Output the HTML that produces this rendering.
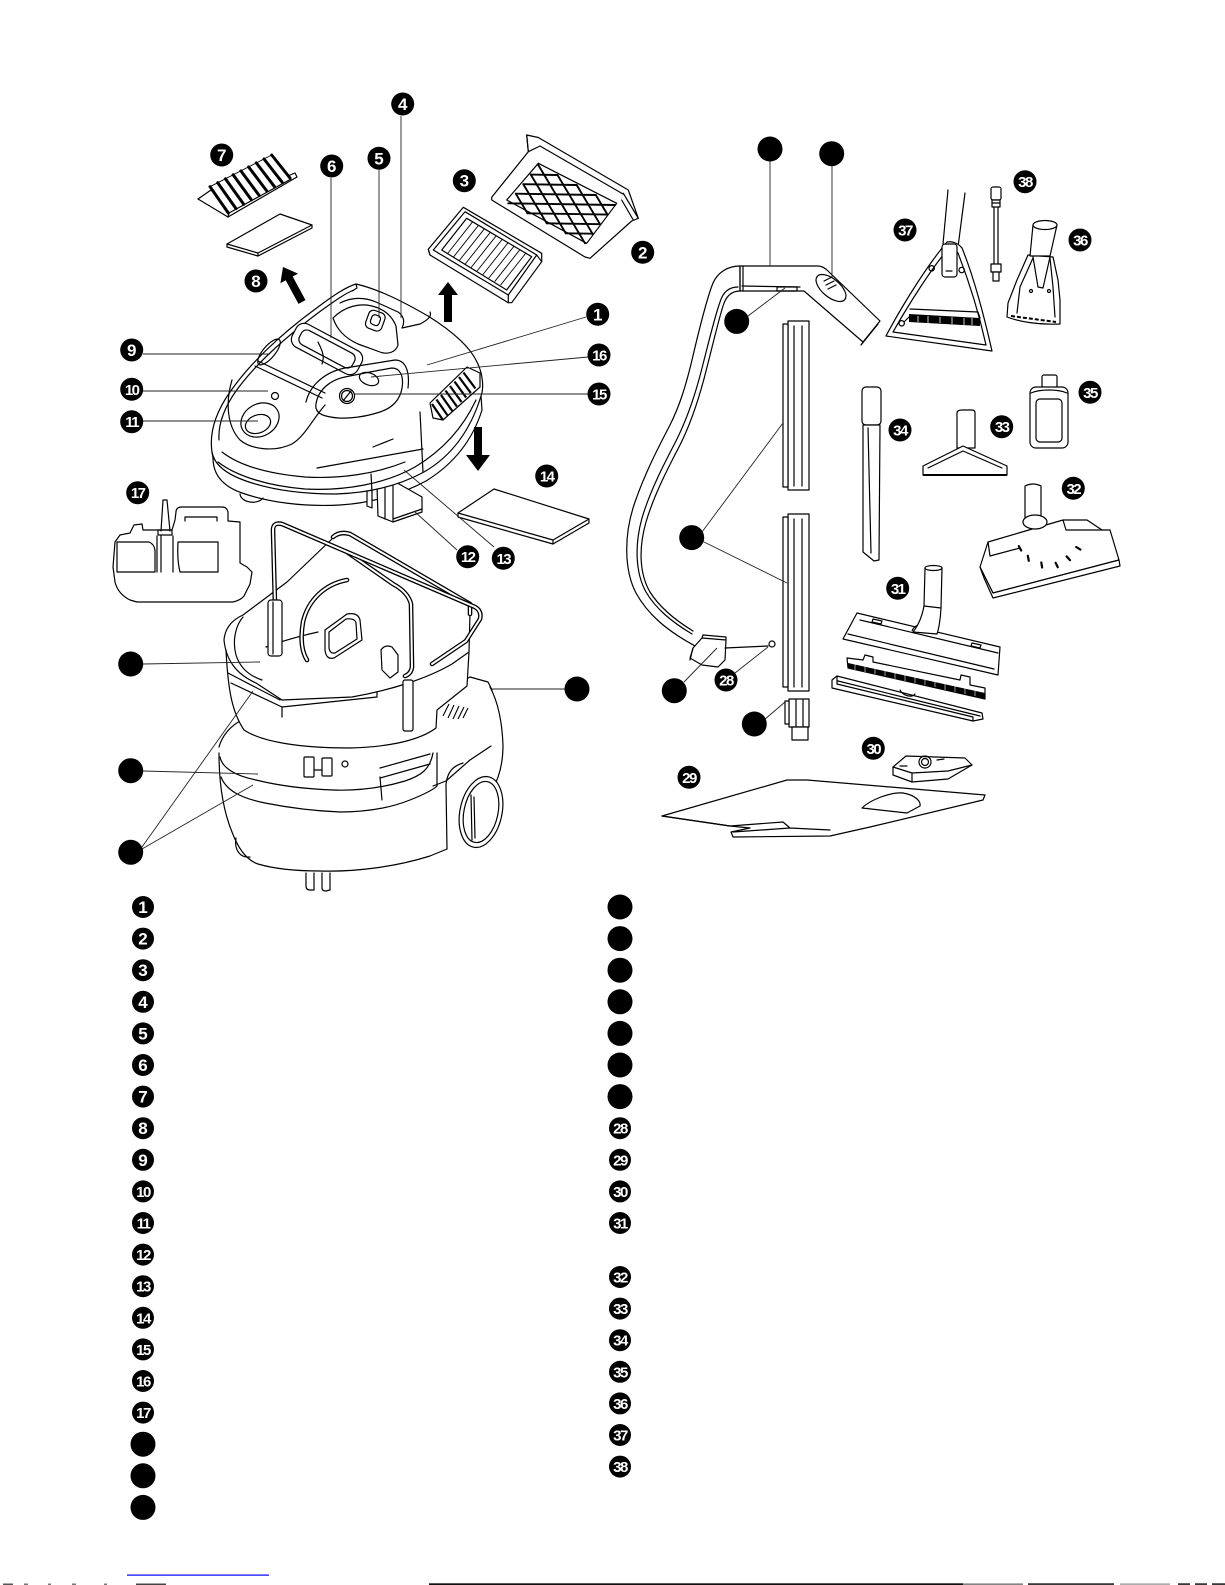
<!DOCTYPE html>
<html><head><meta charset="utf-8"><style>
html,body{margin:0;padding:0;background:#fff;}
svg{display:block;}
.l{fill:none;stroke:#000;stroke-width:1.2;stroke-linejoin:round;stroke-linecap:round}
.t{fill:none;stroke:#000;stroke-width:0.9;stroke-linejoin:round;stroke-linecap:round}
.w{fill:#fff;stroke:#000;stroke-width:1.2;stroke-linejoin:round}
.k{fill:#000;stroke:none}
.ld{fill:none;stroke:#222;stroke-width:0.9}
.d1{fill:none;stroke:#000;stroke-width:4.6;stroke-linejoin:round;stroke-linecap:round}
.d2{fill:none;stroke:#fff;stroke-width:2;stroke-linejoin:round;stroke-linecap:round}
.bt{fill:#fff;font-family:"Liberation Sans",sans-serif;font-weight:bold;font-size:17px;text-anchor:middle}
.bt2{fill:#fff;font-family:"Liberation Sans",sans-serif;font-weight:bold;font-size:15px;text-anchor:middle;letter-spacing:-1.5px}
</style></head><body>
<svg width="1225" height="1585" viewBox="0 0 1225 1585" xmlns="http://www.w3.org/2000/svg">

<!-- ========== FILTER 7 (pleated) ========== -->
<path class="l" d="M198,199 L228,217 L297,177 L295,173 L290,175"/>
<path class="l" d="M198,199 L211,190 L214,193"/>
<path class="l" d="M228,217 L229,213 L291,179"/>
<g stroke="#000" stroke-width="3" stroke-linecap="round">
<line x1="210" y1="186.7" x2="228.3" y2="213"/>
<line x1="217.7" y1="182.7" x2="236" y2="208.6"/>
<line x1="225.4" y1="178.8" x2="243.7" y2="204.3"/>
<line x1="233.1" y1="174.8" x2="251.4" y2="199.9"/>
<line x1="240.9" y1="170.9" x2="259.2" y2="195.5"/>
<line x1="248.6" y1="166.9" x2="266.9" y2="191.1"/>
<line x1="256.3" y1="162.9" x2="274.6" y2="186.8"/>
<line x1="264" y1="159" x2="282.3" y2="182.4"/>
<line x1="271.7" y1="155" x2="290" y2="178"/>
</g>
<path class="t" d="M210,186.7 L271.7,155"/>

<!-- ========== PAD 8 ========== -->
<path class="w" d="M227,244 L280,214 L312,225 L312,228 L258,256 L227,247 Z"/>
<path class="l" d="M227,244 L258,253 L312,225 M258,253 L258,256"/>

<!-- Arrow near 8 -->
<polygon class="k" points="305.5,300.1 292.7,276.5 298,273.6 283,267 280.4,283.2 285.7,280.3 298.5,303.9"/>

<!-- ========== FILTER 3 ========== -->
<path class="w" d="M428.3,249.3 L463.3,207.3 L541.7,253.3 L541.7,261.7 L511.7,302.7 L508.3,302.7 L430,255 Z"/>
<path class="l" d="M433.3,250 L465,211.7 L536.7,255 L508.3,295 Z"/>
<path class="l" d="M441.7,250 L466.7,218.3 L531.7,256.7 L506.7,290 Z"/>
<path class="l" d="M428.3,249.3 L430,255 M508.3,295 L508.3,302.7 M536.7,255 L541.7,261.7"/>
<g class="t">
<line x1="472.6" y1="221.8" x2="447.6" y2="253.5"/>
<line x1="478.5" y1="225.3" x2="453.5" y2="257"/>
<line x1="484.4" y1="228.8" x2="459.4" y2="260.4"/>
<line x1="490.3" y1="232.3" x2="465.3" y2="263.9"/>
<line x1="496.2" y1="235.8" x2="471.2" y2="267.4"/>
<line x1="502.2" y1="239.3" x2="477.2" y2="270.9"/>
<line x1="508.1" y1="242.7" x2="483.1" y2="274.4"/>
<line x1="514" y1="246.2" x2="489" y2="277.9"/>
<line x1="519.9" y1="249.7" x2="494.9" y2="281.3"/>
<line x1="525.8" y1="253.2" x2="500.8" y2="284.8"/>
</g>
<!-- up arrow -->
<polygon class="k" points="444,322 452,322 452,295 458,295 448,282 438,295 444,295"/>

<!-- ========== FILTER 2 (tray with lattice) ========== -->
<path class="w" d="M491.7,197.3 L528.3,151.7 L526.7,135 L538.3,137.5 L628.3,190 L638.3,218.3 L631.7,221 L590,258.3 L585,257 L491.7,200 Z"/>
<path class="l" d="M528.3,151.7 L540,146 L623,194 M526.7,135 L528.3,151.7 M623.3,193.3 L638.3,218.3 M621.7,200 L633.3,220"/>
<path class="l" d="M506.7,200 L538.3,163.3 L616.7,203.3 L586.7,243.3 Z"/>
<g stroke="#000" stroke-width="1.9" stroke-linecap="round">
<line x1="508.3" y1="203.3" x2="615" y2="205"/>
<line x1="515.8" y1="193.7" x2="595.8" y2="195"/>
<line x1="523.3" y1="184.2" x2="576.7" y2="185"/>
<line x1="530.8" y1="174.6" x2="557.5" y2="175"/>
<line x1="527.5" y1="213.3" x2="607.5" y2="214.6"/>
<line x1="546.7" y1="223.3" x2="600" y2="224.2"/>
<line x1="565.8" y1="233.3" x2="592.5" y2="233.7"/>
<line x1="515.8" y1="193.7" x2="527.5" y2="213.3"/>
<line x1="523.3" y1="184.2" x2="546.7" y2="223.3"/>
<line x1="530.8" y1="174.6" x2="565.8" y2="233.3"/>
<line x1="538.3" y1="165" x2="585" y2="243.3"/>
<line x1="557.5" y1="175" x2="592.5" y2="233.7"/>
<line x1="576.7" y1="185" x2="600" y2="224.2"/>
<line x1="595.8" y1="195" x2="607.5" y2="214.6"/>
</g>

<!-- ========== VACUUM HEAD ========== -->
<path class="w" d="M213,458 C213,474 222,486 242,493 C268,502 302,507 340,505 C372,503 402,494 426,481 C452,465 472,442 482,410 L481,396 L212,452 Z"/>
<path class="l" d="M240,494 C241,503 258,505 263,498"/>
<path class="w" d="M367,475 L367,506 L372,508 L372,478 Z"/>
<path class="w" d="M377,486 L392,480 L422,497 L422,512 L393,522 L378,516 Z"/>
<path class="l" d="M393,480 L393,522 M385,483 L385,519 M393,519 L422,509"/>
<path class="w" d="M212,452 C209,432 216,412 230,392 C248,366 278,336 318,307 C334,295 346,287 356,284 C378,289 402,301 428,316 C452,331 470,347 477,362 C483,374 484,388 481,396 C470,432 450,457 424,472 C400,485 370,493 336,494 C302,494 272,490 246,481 C226,474 214,464 212,452 Z"/>
<path class="l" d="M219,440 C218,424 224,408 236,391 C254,366 284,338 322,310 C336,300 346,293 354,290"/>
<path class="l" d="M356,284 L357,288 L352,291"/>
<path class="l" d="M218,462 C236,476 268,486 305,489 C345,491 385,484 415,467 C440,452 462,430 476,400"/>
<path class="l" d="M222,452 C240,466 270,474 305,477 C340,479 375,474 405,462"/>
<path class="l" d="M420,412 L423,472 M371,474 L372,492"/>
<path class="l" d="M317,468 L423,449 M373,447 L393,439"/>
<path class="l" d="M340,303 C352,297 364,297 376,302 L398,312 C404,316 405,322 402,328 L420,324 C428,320 432,316 430,312"/>
<path class="l" d="M333,318 C345,306 360,303 372,306 C384,309 392,316 396,326 L398,345 C396,352 388,355 380,352 L358,344 C345,338 337,330 333,318 Z"/>
<rect class="w" x="367" y="311" width="17" height="19" rx="5" transform="rotate(20 375 320)"/>
<rect class="l" x="371" y="315" width="9" height="10" rx="3" transform="rotate(20 375 320)"/>
<rect class="w" x="290" y="336" width="74" height="26" rx="9" transform="rotate(28 327 349)"/>
<rect class="l" x="297" y="341" width="60" height="16" rx="6" transform="rotate(28 327 349)"/>
<path class="l" d="M318,342 C322,350 325,356 322,364"/>
<ellipse class="l" cx="269" cy="352" rx="16" ry="6" transform="rotate(-50 269 352)"/>
<path class="l" d="M255,366 L322,398 M258,361 L325,393"/>
<circle class="l" cx="275" cy="396" r="3.5"/>
<ellipse class="l" cx="260" cy="420" rx="20" ry="16" transform="rotate(-30 260 420)"/>
<ellipse class="l" cx="258" cy="424" rx="13" ry="9" transform="rotate(-20 258 424)"/>
<path class="l" d="M232,380 C226,400 226,425 240,440 C252,450 275,452 292,444 C305,436 312,420 325,405"/>
<path class="l" d="M316,404 C318,390 330,380 345,377 C360,374 380,370 392,368 C400,368 404,376 402,388 C400,400 392,408 380,412 C362,418 340,420 326,416 C318,414 315,410 316,404 Z"/>
<path class="l" d="M306,402 C310,385 325,372 345,368 L395,360 C405,360 410,370 408,388"/>
<ellipse class="l" cx="369" cy="379" rx="10" ry="6" transform="rotate(20 369 379)"/>
<circle class="w" cx="347" cy="396" r="7.5"/>
<circle class="l" cx="347" cy="396" r="5.5"/>
<path class="l" d="M343,401 L351,391"/>
<path class="l" d="M430,403 L467,367 L480,373 L480,387 L443,420 L433,418 Z"/>
<g stroke="#000" stroke-width="2.2">
<line x1="432" y1="404" x2="443" y2="420"/>
<line x1="436.5" y1="399.5" x2="447.6" y2="415.5"/>
<line x1="441" y1="395" x2="452.3" y2="411"/>
<line x1="445.5" y1="390.5" x2="456.9" y2="406.5"/>
<line x1="450" y1="386" x2="461.5" y2="402"/>
<line x1="454.5" y1="381.5" x2="466.1" y2="397.5"/>
<line x1="459" y1="377" x2="470.8" y2="393"/>
<line x1="463.5" y1="372.5" x2="475.4" y2="388.5"/>
</g>
<polygon class="k" points="474,427 482,427 482,455 490,455 478,471 466,455 474,455"/>

<!-- PAD 14 -->
<path class="w" d="M458,513 L494,489 L589,519 L589,523 L553,544 L458,517 Z"/>
<path class="l" d="M458,513 L553,540 L589,519 M553,540 L553,544"/>

<!-- ========== ACCESSORY HOLDER 17 ========== -->
<path class="w" d="M115,542 L113,567 L115,582 Q118,594 130,600 L137,602 L233,602 Q241,600 244,596 L250,584 L252,572 L247,567 L240,563 L240,522 L228,521 L228,512 Q227,507 222,507 L182,507 Q176,507 176,512 L175,520 L172,530 L160,530 L143,530 L142,524 L134,525 L130,533 L120,535 Z"/>
<path class="l" d="M185,521 L185,517 L217,517 L217,521"/>
<path class="l" d="M163,500 L161,531 M167,500 L170,531 M163,500 L167,500 M158,530 L172,530 L172,535 L158,535 Z"/>
<path class="l" d="M117,542 L149,542 Q154,544 155,550 L155,572 L117,572 Z"/>
<path class="l" d="M178,542 L218,542 L218,572 L180,572 Q177,560 178,542 Z"/>
<path class="l" d="M157,536 L157,572 M161,536 L161,572 M173,536 L173,572"/>

<!-- ========== LOWER TANK ========== -->
<path class="l" d="M219,747 C222,736 230,726 242,720"/>
<path class="l" d="M433,697 L470,677 L488,682 L492,690"/>
<path class="l" d="M220,757 C222,768 236,776 256,780 C280,786 305,789 333,790 C360,791 385,787 405,781 C420,776 430,770 433,753"/>
<path class="l" d="M221,777 C226,790 240,798 265,803 C290,808 315,811 340,812 C365,812 390,808 410,800 C425,794 434,789 437,786"/>
<path class="l" d="M219,753 C219,785 223,810 232,832 C238,848 246,860 258,864 C275,869 295,871 320,871 C355,872 395,867 430,856 L447,849"/>
<path class="l" d="M447,849 L446,785 C447,772 453,766 463,763"/>
<path class="l" d="M490,687 C497,700 502,720 503,745 C503,765 498,780 492,790"/>
<path class="l" d="M433,786 L446,781 L470,760 L491,746 M437,786 L437,753"/>
<rect class="w" x="304" y="757" width="10" height="20" rx="1"/>
<rect class="w" x="322" y="758" width="10" height="18" rx="1"/>
<path class="l" d="M314,770 L322,770"/>
<circle class="l" cx="345" cy="764" r="3"/>
<path class="l" d="M380,768 L430,754 M380,778 L430,764 M380,777 L382,800"/>
<path class="l" d="M236,838 C234,850 240,858 250,857"/>
<path class="l" d="M306,873 L306,886 Q306,890 310,890 L314,890 L314,873 M322,873 L322,888 Q322,891 326,891 L330,890 L330,873"/>
<ellipse class="w" cx="481" cy="812" rx="21" ry="36" transform="rotate(12 481 812)"/>
<ellipse class="l" cx="481" cy="812" rx="17" ry="31" transform="rotate(12 481 812)"/>
<path class="l" d="M471,795 L472,840 M474,797 L475,838"/>
<g stroke="#000" stroke-width="1.1">
<line x1="443" y1="716" x2="449" y2="704"/><line x1="448" y1="718" x2="454" y2="705"/>
<line x1="453" y1="719" x2="459" y2="706"/><line x1="458" y1="719" x2="464" y2="707"/>
<line x1="463" y1="718" x2="468" y2="708"/>
</g>

<!-- ========== BASKET ========== -->
<path fill="#fff" stroke="none" d="M224,640 C225,628 232,620 243,615 L333,538 L350,533 L470,604 L470,652 L467,686 L437,710 L436,728 C420,740 390,747 350,748 C300,748 262,742 244,730 C232,712 228,690 226,650 Z"/>
<path class="l" d="M224,640 C226,660 236,674 256,683 L282,700 L352,697 C392,690 428,678 452,664 L469,652 L470,612"/>
<path class="l" d="M226,650 C228,690 232,712 244,730 C262,742 300,748 350,748 C390,747 420,740 436,728 L437,710 L467,686 L469,652"/>
<path class="l" d="M228,673 L280,700 M231,683 L282,707 L282,717 M282,707 L377,697 L377,692"/>
<path class="l" d="M224,640 C225,628 232,620 243,615 L287,582 L333,538"/>
<path class="l" d="M243,617 C236,625 232,640 236,655 C240,668 250,676 262,680"/>
<path class="l" d="M266,647 C285,640 300,636 318,632"/>
<path class="d1" d="M333,537 Q340,531 350,534 L470,604 L470,614"/>
<path class="d2" d="M333,537 Q340,531 350,534 L470,604 L470,614"/>
<path class="d1" d="M347,552 L393,584 Q408,592 411,604 L412,667 Q411,674 405,676"/>
<path class="d2" d="M347,552 L393,584 Q408,592 411,604 L412,667 Q411,674 405,676"/>
<path class="d1" d="M347,580 C325,584 308,600 303,622 C300,640 302,652 307,660"/>
<path class="d2" d="M347,580 C325,584 308,600 303,622 C300,640 302,652 307,660"/>
<path class="l" d="M325,630 L347,614 Q358,612 360,620 L362,640 L334,658 Q326,660 325,650 Z"/>
<path class="l" d="M329,632 L346,619 Q355,618 356,623 L357,639 L335,653 Q330,654 329,648 Z"/>
<path class="w" d="M381,650 Q385,644 392,647 L398,655 L398,672 L390,678 L382,670 Z"/>
<rect class="w" x="403" y="680" width="10" height="51" rx="2"/>
<path class="d1" d="M275,605 L273,530 Q273,522 282,524 L475,607 Q482,611 480,619 L466,641 L432,664"/>
<path class="d2" d="M275,605 L273,530 Q273,522 282,524 L475,607 Q482,611 480,619 L466,641 L432,664"/>
<rect class="w" x="268" y="600" width="14" height="56" rx="3"/>
<path class="l" d="M273,602 L273,654"/>

<!-- ========== HOSE ========== -->
<path class="l" d="M740,266 C728,266 718,272 713,283 C707,298 699,330 692,360 C686,385 680,405 670,425 C658,448 644,475 634,505 C624,535 624,570 636,593 C647,613 665,630 697,647"/>
<path class="l" d="M738,287 C729,287 723,292 720,302 C714,319 708,345 701,372 C694,399 686,421 676,441 C664,464 650,491 642,518 C634,547 636,574 646,592 C656,609 672,622 692,634"/>
<path class="l" d="M740,291 C732,291 726,296 723,306 C718,322 712,348 705,375 C698,402 690,425 680,445 C668,468 654,495 646,522 C638,550 640,575 650,592 C660,608 675,620 693,631"/>
<path class="w" d="M690,658 L693,648 L702,638 L726,640 L725,660 L718,667 L702,665 Z"/>
<path class="l" d="M702,638 L703,635 L726,637 L726,640 M693,648 L690,660"/>
<path class="l" d="M725,648 L768,646"/>
<circle class="w" cx="772" cy="644" r="3"/>
<path class="w" d="M740,266 L818,266 Q823,266 828,271 L880,321 L863,342 L804,291 L740,291 Z"/>
<path class="l" d="M740,266 L740,291 M743,266 L743,291 M878,324 L861,345 L863,342 M742,286 L800,287"/>
<rect class="l" x="777" y="287" width="20" height="4"/>
<ellipse class="l" cx="831" cy="288" rx="18" ry="9" transform="rotate(40 831 288)"/>
<path class="l" d="M824,281 L832,277 M826,285 L834,281 M828,289 L836,285"/>
<rect class="w" x="788" y="321" width="21" height="169"/>
<rect class="w" x="783" y="324" width="5" height="163"/>
<path class="l" d="M794,326 L794,486 M802,326 L802,486"/>
<rect class="w" x="788" y="514" width="21" height="177"/>
<rect class="w" x="783" y="517" width="5" height="170"/>
<path class="l" d="M794,519 L794,687 M802,519 L802,687"/>
<rect class="w" x="789" y="699" width="20" height="28"/>
<rect class="w" x="785" y="701" width="4" height="23"/>
<path class="l" d="M796,700 L796,726 M803,700 L803,726"/>
<rect class="w" x="792" y="727" width="16" height="13"/>

<!-- ========== TOOL 37 ========== -->
<path class="l" d="M948,190 L943,244 M965,193 L958,247"/>
<path class="w" d="M947,242 C930,262 905,300 886,336 L992,351 C985,320 975,280 962,248 C958,243 952,241 947,242 Z"/>
<path class="l" d="M948,249 C932,268 910,302 893,332 L986,345 C980,318 970,284 958,253 C955,249 951,247 948,249 Z"/>
<rect class="w" x="942" y="244" width="15" height="33" rx="3"/>
<path class="l" d="M946,271 L952,271"/>
<circle class="l" cx="931.7" cy="268.3" r="2.7"/>
<circle class="l" cx="961.7" cy="270" r="2.7"/>
<circle class="l" cx="901.7" cy="323.3" r="2.7"/>
<path class="l" d="M910,309 L978,312 L980,318 M904,322 L910,316"/>
<polygon class="k" points="909,314 980,318 980,326 909,322"/>
<g stroke="#fff" stroke-width="0.8"><line x1="918" y1="316" x2="918" y2="322"/><line x1="928" y1="316" x2="928" y2="323"/><line x1="940" y1="317" x2="940" y2="323"/><line x1="952" y1="317" x2="952" y2="324"/><line x1="964" y1="318" x2="964" y2="325"/><line x1="972" y1="318" x2="972" y2="325"/></g>

<!-- ========== TOOL 38 ========== -->
<rect class="w" x="991" y="187" width="10" height="13" rx="2"/>
<rect class="w" x="992" y="200" width="8" height="7"/>
<path class="l" d="M992,203 L1000,203"/>
<path class="l" d="M994,207 L994,264 M998,207 L998,264"/>
<rect class="w" x="991" y="264" width="10" height="8"/>
<rect class="w" x="993" y="272" width="6" height="9"/>

<!-- ========== TOOL 36 ========== -->
<path class="w" d="M1028,255 L1017,280 L1008,303 L1007,317 C1020,322 1040,325 1060,324 L1060,300 L1058,280 L1053,257 Z"/>
<path class="w" d="M1033,225 L1030,256 L1050,256 L1057,225 Z"/>
<ellipse class="w" cx="1045" cy="225" rx="12" ry="4.5"/>
<path class="l" d="M1033,258 L1020,287 L1017,313 M1050,258 L1053,287 L1055,317"/>
<path class="l" d="M1033,257 L1038,287 L1043,288 L1050,257"/>
<circle class="l" cx="1031" cy="291" r="1.5"/><circle class="l" cx="1049" cy="291" r="1.5"/>
<path d="M1011,316 L1056,322" stroke="#000" stroke-width="2" stroke-dasharray="4 2"/>

<!-- ========== TOOL 35 ========== -->
<rect class="w" x="1042" y="375" width="15" height="15" rx="2"/>
<rect class="w" x="1030" y="387" width="38" height="61" rx="6"/>
<path class="l" d="M1031,393 C1040,389 1058,389 1067,393"/>
<rect class="l" x="1036" y="399" width="26" height="43" rx="4"/>

<!-- ========== TOOL 34 ========== -->
<rect class="w" x="862" y="387" width="19" height="38" rx="4"/>
<path class="w" d="M863,425 L863,552 L874,561 L879,560 L880,425 Z"/>
<path class="l" d="M868,428 L871,553"/>

<!-- ========== TOOL 33 ========== -->
<path class="w" d="M957,448 L957,413 Q957,410 962,410 L972,410 Q975,410 975,413 L975,448 Z"/>
<path class="w" d="M923,466 L963,446 L1007,466 L1007,475 L923,475 Z"/>
<path class="l" d="M928,468 L963,451 L1002,468"/>
<path d="M923,475 L1007,475" stroke="#000" stroke-width="2"/>

<!-- ========== TOOL 32 ========== -->
<path class="w" d="M980,567 L988,542 L1022,532 L1063,520 L1087,520 L1102,530 L1110,530 L1119,560 L993,593 Z"/>
<path class="w" d="M980,567 L984,578 L993,598 L1120,566 L1119,560 L993,593 Z"/>
<path class="l" d="M988,542 L990,556 L1020,548 M1063,520 L1066,530 L1102,530"/>
<path class="w" d="M1025,522 L1025,486 Q1033,482 1041,486 L1041,520 Z"/>
<ellipse class="w" cx="1035" cy="522" rx="12" ry="7"/>
<g stroke="#000" stroke-width="2.2" stroke-linecap="round">
<line x1="1018.8" y1="546.1" x2="1021.2" y2="550.5"/>
<line x1="1027.8" y1="555.8" x2="1028.8" y2="560.8"/>
<line x1="1041.3" y1="562.5" x2="1042.1" y2="567.5"/>
<line x1="1055.6" y1="562.8" x2="1057.8" y2="567.2"/>
<line x1="1066.6" y1="556.4" x2="1070" y2="560.2"/>
<line x1="1076.2" y1="547" x2="1080.4" y2="549.6"/>
</g>

<!-- ========== NOZZLE 31 ========== -->
<path class="w" d="M857,613 L1000,647 L998,675 L843,639 Z"/>
<path class="l" d="M860,620 L998,653 M848,634 L994,669"/>
<path class="l" d="M873,619 L882,621 L881,624 L872,622 Z M972,643 L981,645 L980,648 L971,646 Z"/>
<path class="w" d="M912,631 C915,622 930,622 935,634"/>
<path class="w" d="M925,568 L924,606 Q921,622 913,632 L937,634 Q940,625 941,608 L942,568 Z"/>
<path class="l" d="M924,606 L941,608"/>
<ellipse class="w" cx="933.5" cy="568" rx="8.5" ry="2.5"/>
<path class="w" d="M847,658 L863,660 L865,655 L873,657 L873,662 L960,680 L961,675 L970,677 L970,685 L985,688 L985,699 L848,668 Z"/>
<polygon class="k" points="848,663 985,693 985,699 848,668"/>
<g stroke="#fff" stroke-width="0.6"><line x1="855" y1="664" x2="855" y2="670"/><line x1="865" y1="666" x2="865" y2="672"/><line x1="875" y1="668" x2="875" y2="674"/><line x1="885" y1="670" x2="885" y2="676"/><line x1="895" y1="673" x2="895" y2="679"/><line x1="905" y1="675" x2="905" y2="681"/><line x1="915" y1="677" x2="915" y2="683"/><line x1="925" y1="679" x2="925" y2="685"/><line x1="935" y1="681" x2="935" y2="687"/><line x1="945" y1="684" x2="945" y2="690"/><line x1="955" y1="686" x2="955" y2="692"/><line x1="965" y1="688" x2="965" y2="694"/><line x1="975" y1="690" x2="975" y2="696"/></g>
<path class="w" d="M832,680 L837,676 L982,713 L983,719 L973,721 L832,688 Z"/>
<path class="l" d="M837,676 L837,684 L973,717 L973,721 M838,681 L980,716"/>
<path class="l" d="M900,690 C903,696 912,698 915,694"/>

<!-- ========== NOZZLE 30 ========== -->
<path class="w" d="M893,767 L906,756 L965,758 L972,765 L960,772 L948,779 L912,782 L893,775 Z"/>
<path class="l" d="M893,767 L912,773 L948,771 L972,765 M912,773 L912,782"/>
<circle class="l" cx="925" cy="762" r="6"/><circle class="l" cx="925" cy="762" r="3.5"/>
<path class="l" d="M900,766 L907,766 M937,760 L944,759"/>

<!-- ========== BAG 29 ========== -->
<path class="w" d="M662,816 L787,780 L807,780 L985,795 L983,800 L870,827 L830,836 L733,837 L731,832 L750,828 L730,826 Z"/>
<path class="l" d="M662,816 L730,826 L783,822 L790,828 M733,832 L790,828 L830,830"/>
<path class="l" d="M862,808 C870,800 890,792 903,793 C915,795 921,801 920,806 L907,813 Z"/>

<!-- ========== LEADER LINES ========== -->
<g class="ld">
<path d="M401,116 L401,318"/>
<path d="M331,178 L331,338"/>
<path d="M379,170 L379,318"/>
<path d="M143,354 L270,354"/>
<path d="M143,391 L268,391"/>
<path d="M143,421 L258,421"/>
<path d="M586,317 L427,365"/>
<path d="M588,357 L371,377"/>
<path d="M588,394 L354,394"/>
<path d="M457,550 L414,511"/>
<path d="M494,547 L404,470"/>
<path d="M143,664 L260,662"/>
<path d="M143,771 L258,774"/>
<path d="M142,847 L253,691"/>
<path d="M142,849 L253,785"/>
<path d="M491,689 L565,689"/>
<path d="M770,160 L770,266"/>
<path d="M832,165 L832,277"/>
<path d="M748,316 L785,288"/>
<path d="M702,532 L783,423"/>
<path d="M702,541 L787,583"/>
<path d="M684,682 L717,648"/>
<path d="M735,673 L768,647"/>
<path d="M764,720 L785,702"/>
</g>

<!-- ========== BADGES (diagram) ========== -->
<g>
<circle cx="402.7" cy="104" r="11.5"/><text class="bt" x="402.7" y="110">4</text>
<circle cx="221.7" cy="155" r="11.5"/><text class="bt" x="221.7" y="161">7</text>
<circle cx="331.7" cy="166" r="11.5"/><text class="bt" x="331.7" y="172">6</text>
<circle cx="379" cy="158.3" r="11.5"/><text class="bt" x="379" y="164.3">5</text>
<circle cx="464.3" cy="180.7" r="11.5"/><text class="bt" x="464.3" y="186.7">3</text>
<circle cx="642.7" cy="252.3" r="11.5"/><text class="bt" x="642.7" y="258.3">2</text>
<circle cx="256" cy="281" r="11.5"/><text class="bt" x="256" y="287">8</text>
<circle cx="597.7" cy="314.3" r="11.5"/><text class="bt" x="597.7" y="320.3">1</text>
<circle cx="599" cy="355" r="11.5"/><text class="bt2" x="599" y="360.5">16</text>
<circle cx="599" cy="394" r="11.5"/><text class="bt2" x="599" y="399.5">15</text>
<circle cx="131.7" cy="350" r="11.5"/><text class="bt" x="131.7" y="356">9</text>
<circle cx="131.7" cy="389.3" r="11.5"/><text class="bt2" x="131.7" y="394.8">10</text>
<circle cx="131.7" cy="421.7" r="11.5"/><text class="bt2" x="131.7" y="427.2">11</text>
<circle cx="546.7" cy="476" r="11.5"/><text class="bt2" x="546.7" y="481.5">14</text>
<circle cx="137.7" cy="492.7" r="11.5"/><text class="bt2" x="137.7" y="498.2">17</text>
<circle cx="467.7" cy="556.7" r="11.5"/><text class="bt2" x="467.7" y="562.2">12</text>
<circle cx="503.3" cy="558.3" r="11.5"/><text class="bt2" x="503.3" y="563.8">13</text>
<circle cx="130.7" cy="664" r="12.5"/>
<circle cx="130.7" cy="770.7" r="12.5"/>
<circle cx="130.7" cy="852.3" r="12.5"/>
<circle cx="577" cy="689" r="12.5"/>
<circle cx="770" cy="149" r="12.5"/>
<circle cx="831.7" cy="153.7" r="12.5"/>
<circle cx="736.7" cy="321.4" r="12.5"/>
<circle cx="691.7" cy="537.6" r="12.5"/>
<circle cx="674.3" cy="690.7" r="12.5"/>
<circle cx="754.3" cy="724" r="12.5"/>
<circle cx="726" cy="680" r="11.5"/><text class="bt2" x="726" y="685.5">28</text>
<circle cx="689" cy="777.3" r="11.5"/><text class="bt2" x="689" y="782.8">29</text>
<circle cx="873.3" cy="748.3" r="11.5"/><text class="bt2" x="873.3" y="753.8">30</text>
<circle cx="897.7" cy="588.3" r="11.5"/><text class="bt2" x="897.7" y="593.8">31</text>
<circle cx="1073.3" cy="488.3" r="11.5"/><text class="bt2" x="1073.3" y="493.8">32</text>
<circle cx="1001.7" cy="426.7" r="11.5"/><text class="bt2" x="1001.7" y="432.2">33</text>
<circle cx="900" cy="430" r="11.5"/><text class="bt2" x="900" y="435.5">34</text>
<circle cx="1090" cy="392.3" r="11.5"/><text class="bt2" x="1090" y="397.8">35</text>
<circle cx="1080" cy="240" r="11.5"/><text class="bt2" x="1080" y="245.5">36</text>
<circle cx="905" cy="230" r="11.5"/><text class="bt2" x="905" y="235.5">37</text>
<circle cx="1025" cy="181.7" r="11.5"/><text class="bt2" x="1025" y="187.2">38</text>
</g>

<!-- ========== LIST BADGES LEFT ========== -->
<g>
<circle cx="143" cy="907" r="11"/><text class="bt" x="143" y="913">1</text>
<circle cx="143" cy="938.6" r="11"/><text class="bt" x="143" y="944.6">2</text>
<circle cx="143" cy="970.2" r="11"/><text class="bt" x="143" y="976.2">3</text>
<circle cx="143" cy="1001.8" r="11"/><text class="bt" x="143" y="1007.8">4</text>
<circle cx="143" cy="1033.4" r="11"/><text class="bt" x="143" y="1039.4">5</text>
<circle cx="143" cy="1065" r="11"/><text class="bt" x="143" y="1071">6</text>
<circle cx="143" cy="1096.6" r="11"/><text class="bt" x="143" y="1102.6">7</text>
<circle cx="143" cy="1128.2" r="11"/><text class="bt" x="143" y="1134.2">8</text>
<circle cx="143" cy="1159.8" r="11"/><text class="bt" x="143" y="1165.8">9</text>
<circle cx="143" cy="1191.4" r="11"/><text class="bt2" x="143" y="1196.9">10</text>
<circle cx="143" cy="1223" r="11"/><text class="bt2" x="143" y="1228.5">11</text>
<circle cx="143" cy="1254.6" r="11"/><text class="bt2" x="143" y="1260.1">12</text>
<circle cx="143" cy="1286.2" r="11"/><text class="bt2" x="143" y="1291.7">13</text>
<circle cx="143" cy="1317.8" r="11"/><text class="bt2" x="143" y="1323.3">14</text>
<circle cx="143" cy="1349.4" r="11"/><text class="bt2" x="143" y="1354.9">15</text>
<circle cx="143" cy="1381" r="11"/><text class="bt2" x="143" y="1386.5">16</text>
<circle cx="143" cy="1412.6" r="11"/><text class="bt2" x="143" y="1418.1">17</text>
<circle cx="143" cy="1444.2" r="12.5"/>
<circle cx="143" cy="1475.8" r="12.5"/>
<circle cx="143" cy="1507.4" r="12.5"/>
</g>

<!-- ========== LIST BADGES RIGHT ========== -->
<g>
<circle cx="620" cy="907" r="12.5"/>
<circle cx="620" cy="938.6" r="12.5"/>
<circle cx="620" cy="970.2" r="12.5"/>
<circle cx="620" cy="1001.8" r="12.5"/>
<circle cx="620" cy="1033.4" r="12.5"/>
<circle cx="620" cy="1065" r="12.5"/>
<circle cx="620" cy="1096.6" r="12.5"/>
<circle cx="620" cy="1128.2" r="11"/><text class="bt2" x="620" y="1133.7">28</text>
<circle cx="620" cy="1159.8" r="11"/><text class="bt2" x="620" y="1165.3">29</text>
<circle cx="620" cy="1191.4" r="11"/><text class="bt2" x="620" y="1196.9">30</text>
<circle cx="620" cy="1223" r="11"/><text class="bt2" x="620" y="1228.5">31</text>
<circle cx="620" cy="1277" r="11"/><text class="bt2" x="620" y="1282.5">32</text>
<circle cx="620" cy="1308.6" r="11"/><text class="bt2" x="620" y="1314.1">33</text>
<circle cx="620" cy="1340.2" r="11"/><text class="bt2" x="620" y="1345.7">34</text>
<circle cx="620" cy="1371.8" r="11"/><text class="bt2" x="620" y="1377.3">35</text>
<circle cx="620" cy="1403.4" r="11"/><text class="bt2" x="620" y="1408.9">36</text>
<circle cx="620" cy="1435" r="11"/><text class="bt2" x="620" y="1440.5">37</text>
<circle cx="620" cy="1466.6" r="11"/><text class="bt2" x="620" y="1472.1">38</text>
</g>

<!-- ========== BOTTOM ARTIFACTS ========== -->
<rect x="127" y="1574.5" width="142" height="1.2" fill="#0000ff"/>
<rect x="429" y="1583.3" width="534" height="1.7" fill="#111"/>
<rect x="963" y="1583.5" width="60" height="1.3" fill="#666"/>
<rect x="1028" y="1583.3" width="86" height="1.6" fill="#222"/>
<rect x="1120" y="1583.5" width="50" height="1.2" fill="#888"/>
<rect x="1178" y="1583.3" width="12" height="1.6" fill="#222"/>
<rect x="1195" y="1583.3" width="12" height="1.6" fill="#222"/>
<rect x="1212" y="1583.3" width="13" height="1.6" fill="#222"/>
<rect x="3" y="1583.5" width="10" height="1.5" fill="#555"/>
<rect x="24" y="1583.5" width="4" height="1.5" fill="#777"/>
<rect x="48" y="1583.5" width="3" height="1.5" fill="#777"/>
<rect x="72" y="1583.5" width="4" height="1.5" fill="#777"/>
<rect x="104" y="1583.5" width="3" height="1.5" fill="#777"/>
<rect x="136" y="1583.5" width="30" height="1.5" fill="#444"/>
</svg>
</body></html>
